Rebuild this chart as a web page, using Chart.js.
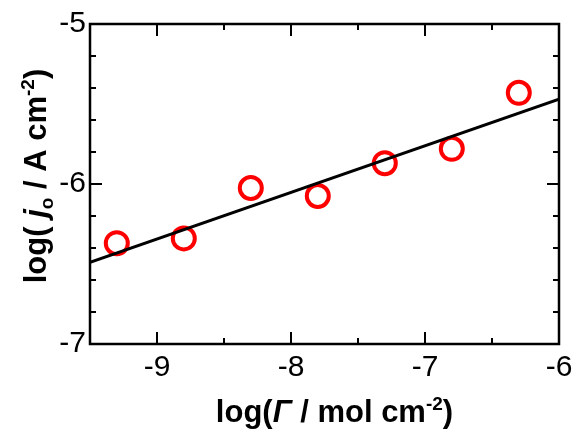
<!DOCTYPE html>
<html>
<head>
<script src="https://cdn.jsdelivr.net/npm/chart.js@4"></script>
<style>html,body{margin:0;padding:0;background:#fff}</style>
</head>
<body>
<canvas id="c" width="583" height="440" style="width:583px;height:440px"></canvas>
<script>
// measured points
const logGamma = [-9.3, -8.8, -8.3, -7.8, -7.3, -6.8, -6.3];
const logJ = [-6.37, -6.34, -6.025, -6.075, -5.87, -5.78, -5.43];
// fitted line ends
const fitX = [-9.5, -6];
const fitY = [-6.49, -5.47];
const xTicks = [-9, -8, -7, -6];
const yTicks = [-7, -6, -5];

function drawRich(ctx, parts, x, y) {
    let total = 0;
    parts.forEach(p => { ctx.font = p.font; total += ctx.measureText(p.t).width; });
    let cx = x - total / 2;
    parts.forEach(p => {
        ctx.font = p.font;
        ctx.fillText(p.t, cx, y + (p.dy || 0));
        cx += ctx.measureText(p.t).width;
    });
}

const frame = {
    id: 'frame',
    afterDraw(chart) {
        const ctx = chart.ctx, a = chart.chartArea;
        const xs = chart.scales.x, ys = chart.scales.y;
        ctx.save();
        ctx.strokeStyle = '#000';
        ctx.lineWidth = 2.5;
        ctx.strokeRect(a.left, a.top, a.right - a.left, a.bottom - a.top);
        ctx.lineWidth = 2;
        ctx.beginPath();
        for (let v = -9.5; v <= -6; v += 0.5) {
            const px = xs.getPixelForValue(v);
            const len = Math.abs(v - Math.round(v)) < 0.01 ? 12 : 6;
            ctx.moveTo(px, a.bottom); ctx.lineTo(px, a.bottom - len);
            ctx.moveTo(px, a.top); ctx.lineTo(px, a.top + len);
        }
        for (let i = 0; i <= 10; i++) {
            const v = -7 + i * 0.2;
            const py = ys.getPixelForValue(v);
            const len = i % 5 === 0 ? 12 : 6;
            ctx.moveTo(a.left, py); ctx.lineTo(a.left + len, py);
            ctx.moveTo(a.right, py); ctx.lineTo(a.right - len, py);
        }
        ctx.stroke();

        ctx.fillStyle = '#000';
        ctx.textBaseline = 'alphabetic';
        const b = 'bold 31px "Liberation Sans", Arial, sans-serif';
        const bi = 'italic bold 31px "Liberation Sans", Arial, sans-serif';
        const bs = 'bold 19px "Liberation Sans", Arial, sans-serif';
        drawRich(ctx, [
            { t: 'log(', font: b },
            { t: 'Γ', font: bi },
            { t: ' / mol cm', font: b },
            { t: '-2', font: bs, dy: -12 },
            { t: ')', font: b }
        ], (a.left + a.right) / 2 + 10, 422);
        ctx.translate(46, (a.top + a.bottom) / 2 - 8);
        ctx.rotate(-Math.PI / 2);
        drawRich(ctx, [
            { t: 'log( ', font: b },
            { t: 'j', font: bi },
            { t: 'o', font: bs, dy: 7 },
            { t: ' / A cm', font: b },
            { t: '-2', font: bs, dy: -12 },
            { t: ')', font: b }
        ], 0, 0);
        ctx.restore();
    }
};

new Chart(document.getElementById('c'), {
    type: 'scatter',
    data: {
        datasets: [
            {
                type: 'line',
                data: fitX.map((x, i) => ({ x: x, y: fitY[i] })),
                borderColor: '#000',
                borderWidth: 3,
                pointRadius: 0,
                fill: false
            },
            {
                data: logGamma.map((x, i) => ({ x: x, y: logJ[i] })),
                pointStyle: 'circle',
                pointRadius: 11,
                pointBorderWidth: 4,
                borderColor: '#ff0000',
                backgroundColor: 'rgba(0,0,0,0)'
            }
        ]
    },
    options: {
        responsive: false,
        animation: false,
        devicePixelRatio: 1,
        layout: { padding: { left: 0, right: 24, top: 24, bottom: 0 } },
        plugins: { legend: { display: false }, tooltip: { enabled: false } },
        scales: {
            x: {
                type: 'linear', min: -9.5, max: -6,
                afterBuildTicks: s => { s.ticks = xTicks.map(v => ({ value: v })); },
                afterFit: s => { s.height = 96; },
                grid: { display: false, drawTicks: false },
                border: { display: false },
                ticks: { color: '#000', padding: 6, font: { size: 30, family: '"Liberation Sans", Arial' } }
            },
            y: {
                type: 'linear', min: -7, max: -5,
                afterBuildTicks: s => { s.ticks = yTicks.map(v => ({ value: v })); },
                afterFit: s => { s.width = 90; },
                grid: { display: false, drawTicks: false },
                border: { display: false },
                ticks: { color: '#000', padding: 4, font: { size: 30, family: '"Liberation Sans", Arial' } }
            }
        }
    },
    plugins: [frame]
});
</script>
</body>
</html>
